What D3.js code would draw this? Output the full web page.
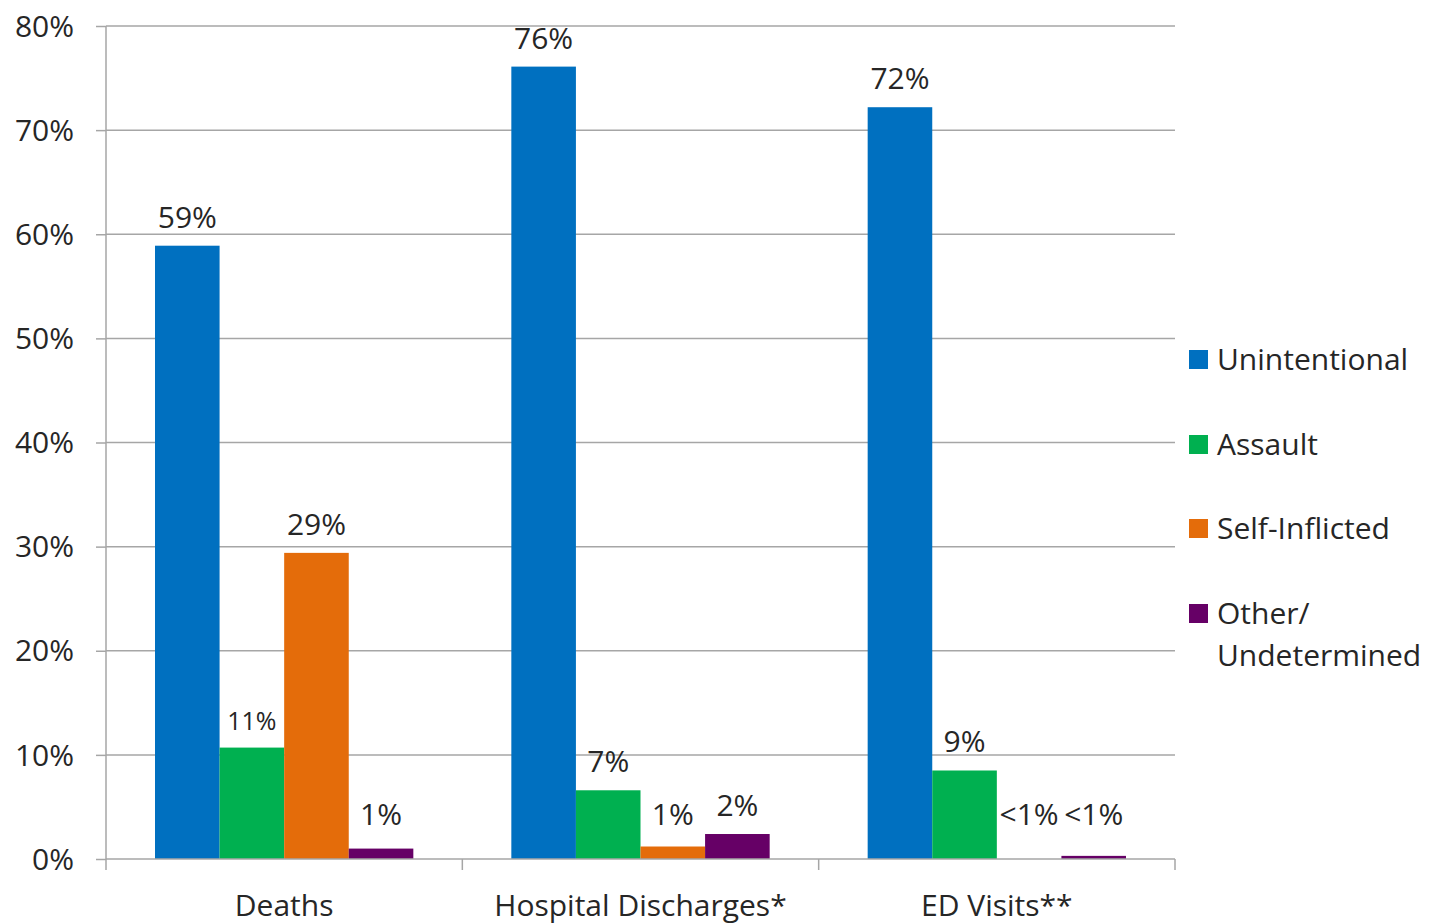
<!DOCTYPE html>
<html>
<head>
<meta charset="utf-8">
<script src="https://cdn.jsdelivr.net/npm/d3@7"></script>
<style>
  body { margin: 0; background: #fff; }
  text { font-family: "Open Sans", "Noto Sans", sans-serif; fill: #262626; }
</style>
</head>
<body>
<div id="chart"></div>
<script>
// data
var groups = ["Deaths", "Hospital Discharges*", "ED Visits**"];
var series = ["Unintentional", "Assault", "Self-Inflicted", "Other/Undetermined"];
var legendLines = [["Unintentional"], ["Assault"], ["Self-Inflicted"], ["Other/", "Undetermined"]];
var colors = ["#0070C0", "#00B050", "#E46C0A", "#660066"];
var unintentional = [58.9, 76.1, 72.2];
var assault = [10.7, 6.6, 8.5];
var selfInflicted = [29.4, 1.2, 0];
var otherUndet = [1.0, 2.4, 0.3];
var labelText = [
  ["59%", "11%", "29%", "1%"],
  ["76%", "7%", "1%", "2%"],
  ["72%", "9%", "<1%", "<1%"]
];
var yTicks = [0, 10, 20, 30, 40, 50, 60, 70, 80];

var values = [unintentional, assault, selfInflicted, otherUndet];

var W = 1445, H = 924;
var margin = {top: 26, right: 270, bottom: 65, left: 106};
var width = W - margin.left - margin.right,
    height = H - margin.top - margin.bottom;

var svg = d3.select("#chart").append("svg")
  .attr("width", W).attr("height", H)
  .append("g")
  .attr("transform", "translate(" + margin.left + "," + margin.top + ")");

var x0 = d3.scaleBand().domain(groups).range([0, width]);
var x1 = d3.scaleBand().domain(series).range([49, x0.bandwidth() - 49]);
var y = d3.scaleLinear().domain([0, 80]).range([height, 0]);

// gridlines
svg.append("g")
  .selectAll("line")
  .data(yTicks.filter(function(d) { return d > 0; }))
  .enter().append("line")
  .attr("x1", 0).attr("x2", width)
  .attr("y1", function(d) { return y(d); })
  .attr("y2", function(d) { return y(d); })
  .attr("stroke", "#a6a6a6").attr("stroke-width", 1.5);

// y axis
var yAxis = svg.append("g")
  .call(d3.axisLeft(y).tickValues(yTicks).tickSize(10).tickPadding(22)
    .tickFormat(function(d) { return d + "%"; }));
yAxis.selectAll("line").attr("stroke", "#a6a6a6").attr("stroke-width", 1.5);
yAxis.select(".domain").attr("stroke", "#a6a6a6").attr("stroke-width", 1.5)
  .attr("d", "M0," + height + "V0");
yAxis.selectAll("text").style("font-size", "30px").attr("dy", "0.34em")
  .style("font-family", "'Open Sans', sans-serif").attr("fill", "#262626");

// bars
var grp = svg.selectAll(".grp")
  .data(groups)
  .enter().append("g")
  .attr("class", "grp")
  .attr("transform", function(d) { return "translate(" + x0(d) + ",0)"; });

grp.selectAll("rect")
  .data(function(g, gi) {
    return series.map(function(s, si) { return {s: s, si: si, v: values[si][gi], lab: labelText[gi][si]}; });
  })
  .enter().append("rect")
  .attr("x", function(d) { return x1(d.s); })
  .attr("width", x1.bandwidth())
  .attr("y", function(d) { return y(d.v); })
  .attr("height", function(d) { return height - y(d.v); })
  .attr("fill", function(d) { return colors[d.si]; });

grp.selectAll(".lab")
  .data(function(g, gi) {
    return series.map(function(s, si) { return {s: s, si: si, v: values[si][gi], lab: labelText[gi][si]}; });
  })
  .enter().append("text")
  .attr("class", "lab")
  .attr("x", function(d) { return x1(d.s) + x1.bandwidth() / 2; })
  .attr("y", function(d) { return y(Math.max(d.v, 1.5)) - 18; })
  .attr("text-anchor", "middle")
  .style("font-size", function(d) { return d.lab === "11%" ? "25px" : "30px"; })
  .text(function(d) { return d.lab; });

// x axis
var xAxis = svg.append("g")
  .attr("transform", "translate(0," + height + ")");
xAxis.append("line").attr("x1", 0).attr("x2", width)
  .attr("stroke", "#a6a6a6").attr("stroke-width", 1.5);
xAxis.selectAll(".tk")
  .data(d3.range(groups.length + 1))
  .enter().append("line")
  .attr("x1", function(i) { return i * x0.step(); })
  .attr("x2", function(i) { return i * x0.step(); })
  .attr("y1", 0).attr("y2", 11)
  .attr("stroke", "#a6a6a6").attr("stroke-width", 1.5);
xAxis.selectAll(".xl")
  .data(groups)
  .enter().append("text")
  .attr("x", function(d) { return x0(d) + x0.bandwidth() / 2; })
  .attr("y", 57)
  .attr("text-anchor", "middle")
  .style("font-size", "30px")
  .text(function(d) { return d; });

// legend
var legend = svg.append("g")
  .attr("transform", "translate(" + (width + 14) + ",0)");
var legendY = [333, 418, 502, 587];
var li = legend.selectAll(".li")
  .data(series)
  .enter().append("g")
  .attr("transform", function(d, i) { return "translate(0," + legendY[i] + ")"; });
li.append("rect")
  .attr("x", 0).attr("y", -9).attr("width", 19).attr("height", 19)
  .attr("fill", function(d, i) { return colors[i]; });
li.append("text")
  .attr("x", 28)
  .style("font-size", "30px")
  .selectAll("tspan")
  .data(function(d, i) { return legendLines[i]; })
  .enter().append("tspan")
  .attr("x", 28)
  .attr("dy", function(d, j) { return j === 0 ? "0.36em" : "1.4em"; })
  .text(function(d) { return d; });
</script>
</body>
</html>
